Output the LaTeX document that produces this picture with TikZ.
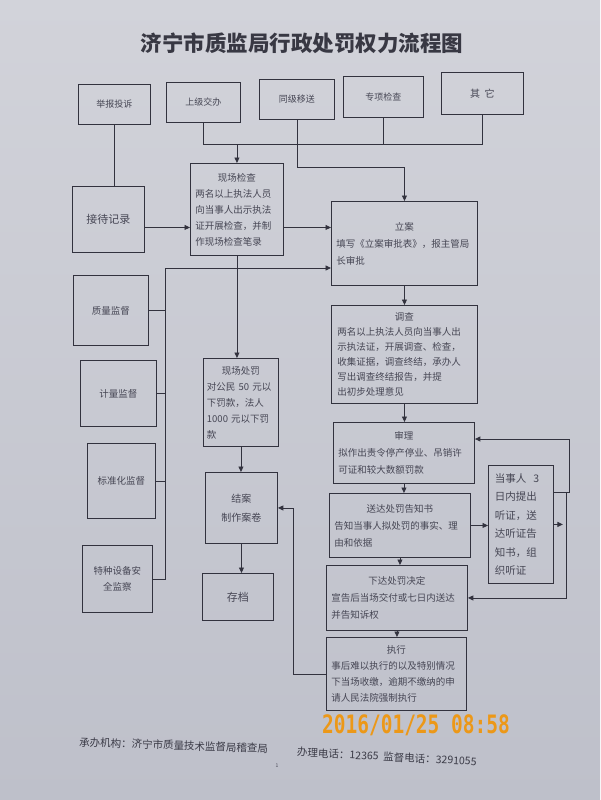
\documentclass[tikz,border=0pt]{standalone}
\usepackage{fontspec}
\usepackage{graphicx}
\newfontfamily\cjk{Noto Sans CJK SC}
\newfontfamily\tsfont{DejaVu Sans Mono}
\usetikzlibrary{arrows.meta,calc}
\setlength\parindent{0pt}
\definecolor{bgtop}{RGB}{210,211,218}
\definecolor{bgbot}{RGB}{190,192,202}
\definecolor{lncol}{RGB}{50,50,62}
\definecolor{txcol}{RGB}{70,70,84}
\definecolor{tsor}{RGB}{236,152,24}
\newcommand\ttl[1]{\noindent\makebox[\hsize]{#1}\\}
\tikzset{
  box/.style={draw=lncol, line width=0.9pt, rectangle, inner sep=0pt, anchor=north west,
              text=txcol, font=\cjk\fontsize{9.5}{16}\selectfont},
  wire/.style={draw=lncol, line width=0.9pt},
  arr/.style={wire, -{Triangle[length=5.5pt,width=5pt]}},
  foot/.style={text=txcol!85!black, font=\cjk\fontsize{10.5}{12}\selectfont, inner sep=0pt},
  tsd/.style={text=tsor, font=\tsfont\bfseries\fontsize{19.5}{20}\selectfont, inner sep=0pt},
}
\begin{document}
\begin{tikzpicture}[x=1pt,y=-1pt]
\useasboundingbox (0,0) rectangle (600,800);
\shade[top color=bgtop, bottom color=bgbot] (0,0) rectangle (600,800);

% title
\node[text=txcol!80!black, font=\cjk\bfseries\fontsize{21.5}{22}\selectfont] (title) at (302,43) {济宁市质监局行政处罚权力流程图};

% top row
\node[box, minimum width=72pt, minimum height=40pt, font=\cjk\fontsize{9}{12}\selectfont] (jb) at (78,84) {举报投诉};
\node[box, minimum width=74pt, minimum height=40pt, font=\cjk\fontsize{9}{12}\selectfont] (sj) at (166,82) {上级交办};
\node[box, minimum width=75pt, minimum height=40pt, font=\cjk\fontsize{9}{12}\selectfont] (tj) at (259,79) {同级移送};
\node[box, minimum width=80pt, minimum height=41pt, font=\cjk\fontsize{9}{12}\selectfont] (zx) at (343,76) {专项检查};
\node[box, minimum width=82pt, minimum height=42pt, font=\cjk\fontsize{10}{12}\selectfont] (qt) at (441,72) {其\ \ 它};

% left column
\node[box, minimum width=72pt, minimum height=66pt, font=\cjk\fontsize{11}{13}\selectfont] (jd) at (72,186) {接待记录};
\node[box, minimum width=75pt, minimum height=70pt] (zl) at (73,275) {质量监督};
\node[box, minimum width=76pt, minimum height=66pt] (jl) at (80,360) {计量监督};
\node[box, minimum width=68pt, minimum height=75pt] (bz) at (87,443) {标准化监督};
\node[box, minimum width=70pt, minimum height=67pt, align=center] (tsb) at (82,545) {特种设备安\\全监察};

% middle column
\node[box, minimum width=93pt, minimum height=92pt, text width=83pt, align=left] (xc) at (190,163)
  {\ttl{现场检查}两名以上执法人员\\向当事人出示执法\\证开展检查，并制\\作现场检查笔录};
\node[box, minimum width=75pt, minimum height=88pt, text width=68pt, align=left] (xccf) at (203,358)
  {\ttl{现场处罚}对公民 50 元以\\下罚款，法人\\1000 元以下罚\\款};
\node[box, minimum width=72pt, minimum height=71pt, align=center, font=\cjk\fontsize{10}{19}\selectfont] (ja) at (205,472) {结案\\制作案卷};
\node[box, minimum width=71pt, minimum height=47pt, font=\cjk\fontsize{11}{13}\selectfont] (cd) at (202,573) {存档};

% right column
\node[box, minimum width=146pt, minimum height=84pt, text width=136pt, align=left, font=\cjk\fontsize{9.5}{17}\selectfont] (la) at (331,201)
  {\ttl{立案}填写《立案审批表》，报主管局\\长审批};
\node[box, minimum width=146pt, minimum height=98pt, text width=134pt, align=left, font=\cjk\fontsize{9.5}{15}\selectfont] (dc) at (331,305)
  {\ttl{调查}两名以上执法人员向当事人出\\示执法证，开展调查、检查，\\收集证据，调查终结，承办人\\写出调查终结报告，并提\\出初步处理意见};
\node[box, minimum width=141pt, minimum height=61pt, text width=131pt, align=left, font=\cjk\fontsize{9.5}{17}\selectfont] (sl) at (333,422)
  {\ttl{审理}拟作出责令停产停业、吊销许\\可证和较大数额罚款};
\node[box, minimum width=141pt, minimum height=64pt, text width=131pt, align=left, font=\cjk\fontsize{9.5}{17}\selectfont] (sd) at (329,493)
  {\ttl{送达处罚告知书}告知当事人拟处罚的事实、理\\由和依据};
\node[box, minimum width=65pt, minimum height=118pt, text width=52pt, align=left, font=\cjk\fontsize{10.5}{18.5}\selectfont] (tz) at (488,465)
  {当事人\ \ 3\\日内提出\\听证，送\\达听证告\\知书，组\\织听证};
\node[box, minimum width=141pt, minimum height=65pt, text width=131pt, align=left, font=\cjk\fontsize{9.5}{17}\selectfont] (xd) at (326,565)
  {\ttl{下达处罚决定}宣告后当场交付或七日内送达\\并告知诉权};
\node[box, minimum width=140pt, minimum height=73pt, text width=130pt, align=left, font=\cjk\fontsize{9.5}{16}\selectfont] (zxg) at (326,637)
  {\ttl{执行}事后难以执行的以及特别情况\\下当场收缴，逾期不缴纳的申\\请人民法院强制执行};

% helper coordinates
\coordinate (h144) at (0,144);
\coordinate (h167) at (0,167);
\coordinate (bt) at (165,268);
\coordinate (jx) at (293,0);
\coordinate (r1) at (569,439);
\coordinate (r2) at (566,492);
\coordinate (c1) at ([yshift=-18pt]xc.east);
\coordinate (c0) at ([yshift=-8pt]jd.east);

% top connections
\draw[wire] (jb.south) -- (jb.south |- jd.north);
\draw[wire] (sj.south) -- (sj.south |- h144) -- (qt.south |- h144) -- (qt.south);
\draw[wire] (zx.south) -- (zx.south |- h144);
\draw[arr] (xc.north |- h144) -- (xc.north);
\draw[arr] (tj.south) -- (tj.south |- h167) -| (la.north);

% left side
\draw[arr] (c0) -- (c0 -| xc.west);
\draw[arr] (c1) -- (c1 -| la.west);
\draw[arr] (bt) -- (bt -| la.west);
\draw[wire] (bt) -- (bt |- tsb.east) -- (tsb.east);
\draw[wire] (zl.east) -- (zl.east -| bt);
\draw[wire] (jl.east) -- (jl.east -| bt);
\draw[wire] (bz.east) -- (bz.east -| bt);

% middle column
\draw[arr] (xc.south) -- (xc.south |- xccf.north);
\draw[arr] (xccf.south) -- (xccf.south |- ja.north);
\draw[arr] (ja.south) -- (ja.south |- cd.north);
\draw[arr] (zxg.west) -- (zxg.west -| jx) -- (jx |- ja.east) -- (ja.east);

% right column
\draw[arr] (la.south) -- (la.south |- dc.north);
\draw[arr] (dc.south) -- (dc.south |- sl.north);
\draw[arr] (sl.south) -- (sl.south |- sd.north);
\draw[arr] (sd.south) -- (sd.south |- xd.north);
\draw[arr, densely dashed] (xd.south) -- (xd.south |- zxg.north);
\draw[arr] (sd.east) -- (sd.east -| tz.west);
\draw[arr] (tz.east |- r2) -- (r1 |- r2) -- (r1) -- (r1 -| sl.east);
\draw[arr] (r2) -- (r2 |- xd.east) -- (xd.east);
\draw[arr] (tz.east) -- ++(9,0);

% footer
\node[foot, anchor=west, rotate=-2] (f1) at (79,742) {承办机构：济宁市质量技术监督局稽查局};
\node[foot, anchor=west, rotate=-3] (f2) at (297,752) {办理电话：12365\ \ 监督电话：3291055};
\node[text=txcol, font=\cjk\fontsize{5}{6}\selectfont, inner sep=0pt] (pg) at (277,766) {1};

% camera timestamp
\node[tsd] (stamp) at (416,725) {\scalebox{1}[1.3]{2016/01/25 08:58}};
\end{tikzpicture}
\end{document}
